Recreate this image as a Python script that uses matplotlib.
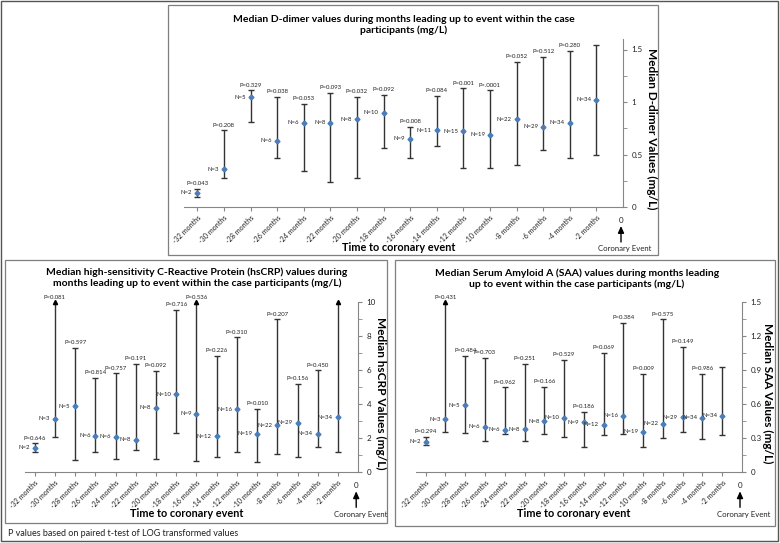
import numpy as np
import matplotlib.pyplot as plt
from matplotlib.patches import Rectangle, FancyArrowPatch

plt.rcParams['font.family'] = ['Lato', 'DejaVu Sans']

W, H = 780, 543

months = [-32, -30, -28, -26, -24, -22, -20, -18, -16, -14, -12, -10, -8, -6, -4, -2]
month_labels = [f'{m} months' for m in months]

# D-dimer (mg/L)
dd_med = [0.136, 0.36, 1.045, 0.63, 0.80, 0.80, 0.835, 0.90, 0.65, 0.73, 0.72, 0.69, 0.835, 0.765, 0.80, 1.02]
dd_lo = [0.10, 0.28, 0.81, 0.47, 0.34, 0.235, 0.28, 0.56, 0.47, 0.58, 0.37, 0.37, 0.40, 0.54, 0.47, 0.50]
dd_hi = [0.17, 0.73, 1.11, 1.045, 0.98, 1.09, 1.045, 1.07, 0.765, 1.06, 1.13, 1.11, 1.38, 1.43, 1.485, 1.54]
dd_n = [2, 3, 5, 6, 6, 8, 8, 10, 9, 11, 15, 19, 22, 29, 34, 34]
dd_p = ['0.043', '0.208', '0.329', '0.038', '0.053', '0.093', '0.032', '0.092', '0.008',
        '0.084', '0.001', '<.0001', '0.052', '0.512', '0.280', None]

# hsCRP (mg/L); upper values above 10 are cut with an arrow
crp_med = [1.43, 3.14, 3.9, 2.15, 2.08, 1.92, 3.8, 4.6, 3.43, 2.12, 3.7, 2.27, 2.78, 2.9, 2.27, 3.25]
crp_lo = [1.2, 2.1, 0.72, 1.21, 0.78, 1.29, 0.78, 2.29, 0.68, 0.92, 1.21, 0.59, 1.06, 0.88, 1.51, 1.18]
crp_hi = [1.7, 11.0, 7.3, 5.57, 5.82, 6.37, 5.96, 9.55, 11.0, 6.86, 7.94, 3.72, 9.0, 5.18, 6.0, 11.0]
crp_n = [2, 3, 5, 6, 6, 8, 8, 10, 9, 12, 16, 19, 22, 29, 34, 34]
crp_p = ['0.646', '0.081', '0.597', '0.814', '0.757', '0.191', '0.092', '0.716', '0.536',
         '0.226', '0.310', '0.010', '0.207', '0.156', '0.450', None]

# SAA (mg/L)
saa_med = [0.27, 0.47, 0.59, 0.40, 0.376, 0.38, 0.45, 0.48, 0.44, 0.42, 0.50, 0.36, 0.43, 0.485, 0.48, 0.50]
saa_lo = [0.24, 0.36, 0.35, 0.28, 0.34, 0.28, 0.335, 0.31, 0.226, 0.33, 0.34, 0.226, 0.30, 0.36, 0.29, 0.33]
saa_hi = [0.31, 1.65, 1.03, 1.01, 0.75, 0.96, 0.755, 0.99, 0.53, 1.055, 1.32, 0.87, 1.35, 1.11, 0.865, 0.925]
saa_n = [2, 3, 5, 6, 6, 8, 8, 10, 9, 12, 16, 19, 22, 29, 34, 34]
saa_p = ['0.294', '0.431', '0.484', '0.703', '0.962', '0.251', '0.166', '0.529', '0.186',
         '0.069', '0.384', '0.009', '0.575', '0.149', '0.986', None]

BLUE = '#4a7ebb'
BAR = '#333333'
AXC = '#868686'
TXT = '#222222'

fig = plt.figure(figsize=(W / 100, H / 100), dpi=100)


def fx(x):
    return x / W


def fy(y):
    return 1 - y / H


def box(x0, y0, x1, y1, lw=0.9, color='#7f7f7f'):
    fig.patches.append(Rectangle((fx(x0), fy(y1)), fx(x1) - fx(x0), fy(y0) - fy(y1),
                                 transform=fig.transFigure, fill=False, lw=lw, ec=color))


def panel(geom, med, lo, hi, ns, ps, ymax, major, minor, fmt, title, tx, ylabel, ylx):
    left, right, top, bottom = geom
    ax = fig.add_axes([fx(left), fy(bottom), fx(right) - fx(left), fy(top) - fy(bottom)])
    ax.set_xlim(-33, 0)
    ax.set_ylim(0, ymax)
    ax.patch.set_alpha(0)
    for s in ['top', 'left']:
        ax.spines[s].set_visible(False)
    for s in ['right', 'bottom']:
        ax.spines[s].set_color(AXC)
        ax.spines[s].set_linewidth(0.8)
    ax.yaxis.tick_right()
    ax.set_yticks(major)
    ax.set_yticklabels([fmt(v) for v in major])
    ax.set_yticks(minor, minor=True)
    ax.tick_params(axis='y', which='both', direction='out', length=3, color=AXC,
                   labelsize=5.8, labelcolor=TXT, pad=3)
    ax.set_xticks(months)
    ax.set_xticklabels(month_labels, rotation=45, ha='right', rotation_mode='anchor')
    ax.tick_params(axis='x', direction='out', length=3, color=AXC, labelsize=5.1,
                   labelcolor=TXT, pad=2)

    x = np.array(months)
    med = np.array(med)
    lo = np.array(lo)
    hi = np.array(hi)
    top_v = np.minimum(hi, ymax)
    ax.vlines(x, lo, top_v, color=BAR, lw=1.0, zorder=2, clip_on=False)
    ax.plot(x, lo, '_', color=BAR, ms=5, mew=1.0, clip_on=False, zorder=2)
    cut = hi > ymax
    ax.plot(x[~cut], hi[~cut], '_', color=BAR, ms=5, mew=1.0, clip_on=False, zorder=2)
    ax.plot(x[cut], top_v[cut], '^', color='black', ms=3, clip_on=False, zorder=2)
    ax.plot(x, med, 'D', color=BLUE, ms=2.5, mec=BLUE, zorder=3, clip_on=False)

    for xi, m, t, n, p in zip(x, med, top_v, ns, ps):
        ax.annotate(f'N={n}', (xi, m), xytext=(-3.5, 0), textcoords='offset points',
                    ha='right', va='center', fontsize=4.3, color=TXT)
        if p is not None:
            s = 'P' + p if p.startswith('<') else 'P=' + p
            ax.annotate(s, (xi, t), xytext=(0, 2), textcoords='offset points',
                        ha='center', va='bottom', fontsize=4.3, color=TXT)

    # event marker below the end of the x axis
    fig.text(fx(right - 2), fy(bottom + 13), '0', ha='center', va='center', fontsize=5.8, color=TXT)
    fig.patches.append(FancyArrowPatch(
        (fx(right - 2), fy(bottom + 35)), (fx(right - 2), fy(bottom + 19)), transform=fig.transFigure,
        arrowstyle='-|>,head_length=4,head_width=1.8', lw=1.0, color='black',
        shrinkA=0, shrinkB=0))
    fig.text(fx(right + 2), fy(bottom + 42), 'Coronary Event', ha='center', va='center',
             fontsize=5.6, color=TXT)
    fig.text(fx((left + right) / 2 - 5), fy(bottom + 41), 'Time to coronary event',
             ha='center', va='center', fontsize=7.8, fontweight='bold')
    fig.text(fx(tx[0]), fy(tx[1]), title, ha='center', va='center', fontsize=7.5,
             fontweight='bold', linespacing=1.2)
    fig.text(fx(ylx), fy((top + bottom) / 2 + 6), ylabel, ha='center', va='center',
             rotation=270, fontsize=8.5, fontweight='bold')
    return ax


# frames
box(1, 1, 778, 541, lw=1.0, color='#555555')
box(168, 5, 658, 255)
box(5, 260, 387, 523)
box(395, 260, 775, 526)

panel((184, 623, 39, 207), dd_med, dd_lo, dd_hi, dd_n, dd_p, 1.6,
      [0, 0.5, 1, 1.5], np.arange(0, 1.6, 0.25), lambda v: f'{v:g}',
      'Median D-dimer values during months leading up to event within the case\nparticipants (mg/L)',
      (404, 25), 'Median D-dimer Values (mg/L)', 652)

panel((24.6, 358.2, 302.3, 472.3), crp_med, crp_lo, crp_hi, crp_n, crp_p, 10,
      [0, 2, 4, 6, 8, 10], np.arange(0, 11, 1), lambda v: f'{v:g}',
      'Median high-sensitivity C-Reactive Protein (hsCRP) values during\nmonths leading up to event within the case participants (mg/L)',
      (197, 278), 'Median hsCRP Values (mg/L)', 381)

panel((415.8, 742, 302.3, 472.3), saa_med, saa_lo, saa_hi, saa_n, saa_p, 1.5,
      [0, 0.3, 0.6, 0.9, 1.2, 1.5], np.arange(0, 1.51, 0.15), lambda v: f'{v:g}',
      'Median Serum Amyloid A (SAA) values during months leading\nup to event within the case participants (mg/L)',
      (577, 279), 'Median SAA Values (mg/L)', 768)

fig.text(fx(8), fy(533), 'P values based on paired t-test of LOG transformed values',
         ha='left', va='center', fontsize=6.5, color=TXT)

fig.savefig('out.png', dpi=100)
